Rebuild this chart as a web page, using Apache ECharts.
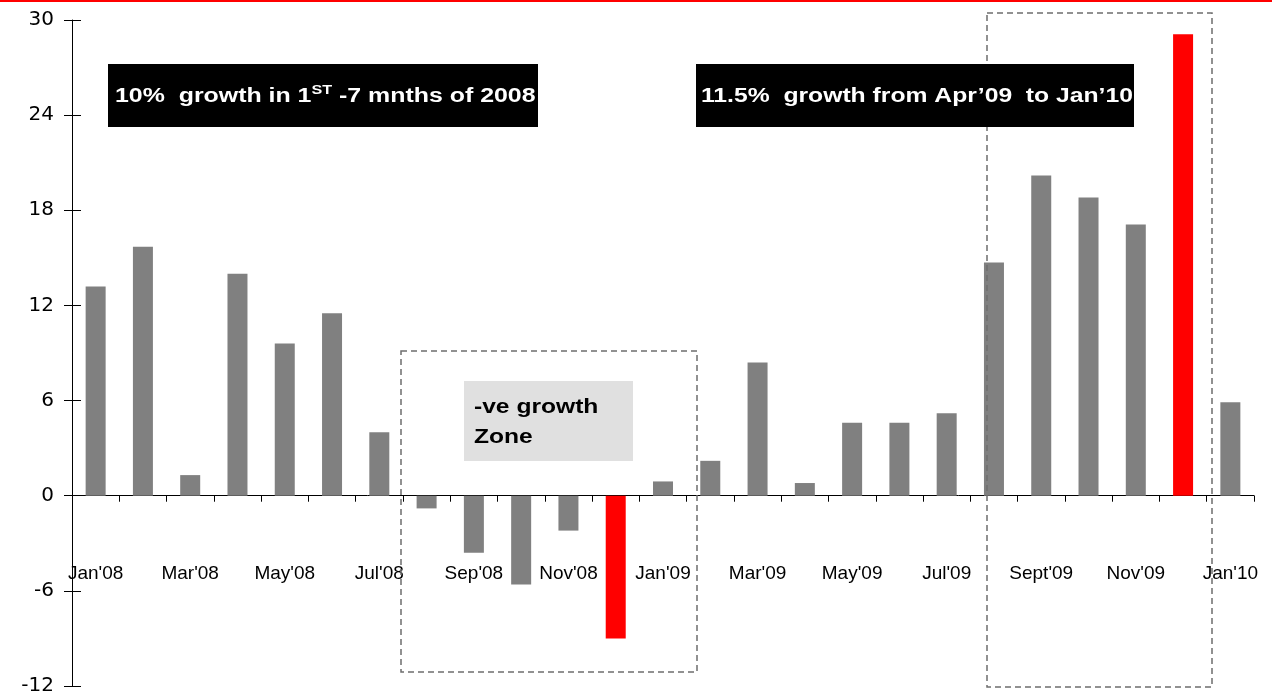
<!DOCTYPE html>
<html>
<head>
<meta charset="utf-8">
<title>Monthly growth</title>
<script src="https://cdn.jsdelivr.net/npm/echarts@6/dist/echarts.min.js"></script>
<style>
  html, body { margin: 0; padding: 0; background: #fff; }
  #chart { width: 1272px; height: 696px; }
</style>
</head>
<body>
<div id="chart"></div>
<script>
// 月份
const months = [
  "Jan'08", "Feb'08", "Mar'08", "Apr'08", "May'08", "Jun'08", "Jul'08", "Aug'08",
  "Sep'08", "Oct'08", "Nov'08", "Dec'08", "Jan'09", "Feb'09", "Mar'09", "Apr'09",
  "May'09", "Jun'09", "Jul'09", "Aug'09", "Sept'09", "Oct'09", "Nov'09", "Dec'09", "Jan'10"
]
// 增长率 (%)
const growth = [
  13.2, 15.7, 1.3, 14.0, 9.6, 11.5, 4.0, -0.8,
  -3.6, -5.6, -2.2, -9.0, 0.9, 2.2, 8.4, 0.8,
  4.6, 4.6, 5.2, 14.7, 20.2, 18.8, 17.1, 29.1, 5.9
]
// 红色标出的月份
const highlightMonths = ["Dec'08", "Dec'09"]
// y 轴刻度
const yMin = -12
const yMax = 30
const yStep = 6

const chart = echarts.init(document.getElementById('chart'))

const barData = growth.map((v, i) => ({
  value: v,
  itemStyle: { color: highlightMonths.includes(months[i]) ? '#ff0000' : '#808080' }
}))

const dashBox = (x, y, w, h) => ({
  type: 'rect',
  shape: { x, y, width: w, height: h },
  style: { fill: 'none', stroke: '#6e6e6e', lineWidth: 1.5, lineDash: [6, 4] },
  z: 10
})

const option = {
  animation: false,
  grid: { left: 72, right: 18, top: 20, bottom: 10, outerBoundsMode: 'none' },
  xAxis: [
    {
      // 零线 + 刻度
      type: 'category',
      data: months,
      axisLine: { onZero: true, lineStyle: { color: '#000', width: 1 } },
      axisTick: { show: true, interval: 0, length: 6, lineStyle: { color: '#000' } },
      axisLabel: { show: false },
      splitLine: { show: false }
    },
    {
      // 月份标签
      type: 'category',
      data: months,
      position: 'bottom',
      offset: -130,
      axisLine: { show: false, onZero: false },
      axisTick: { show: false },
      axisLabel: {
        interval: 1,
        margin: 8,
        color: '#000',
        fontFamily: 'Liberation Sans',
        fontSize: 19
      },
      splitLine: { show: false }
    }
  ],
  yAxis: [
    {
      type: 'value',
      min: yMin,
      max: yMax,
      interval: yStep,
      axisLine: { show: true, lineStyle: { color: '#000', width: 1 } },
      axisTick: { show: true, length: 8, lineStyle: { color: '#000' } },
      axisLabel: {
        margin: 18,
        color: '#000',
        fontFamily: 'DejaVu Sans',
        fontSize: 20
      },
      splitLine: { show: false }
    },
    {
      // 内侧刻度，做出穿过轴线的效果
      type: 'value',
      position: 'left',
      min: yMin,
      max: yMax,
      interval: yStep,
      axisLine: { show: false },
      axisTick: { show: true, inside: true, length: 9, lineStyle: { color: '#000' } },
      axisLabel: { show: false },
      splitLine: { show: false }
    }
  ],
  series: [
    {
      type: 'bar',
      data: barData,
      barWidth: 20,
      xAxisIndex: 0,
      yAxisIndex: 0
    }
  ],
  graphic: [
    // 顶部红线
    { type: 'rect', shape: { x: 0, y: 0, width: 1272, height: 2 }, style: { fill: '#ff0000' } },
    // 虚线框
    dashBox(401, 351, 296, 321),
    dashBox(987, 13, 225, 674),
    // 黑色注释框
    { type: 'rect', shape: { x: 108, y: 64, width: 430, height: 63 }, style: { fill: '#000' }, z: 20 },
    {
      type: 'text', x: 115, y: 96, scaleX: 1.245, z: 21,
      style: {
        text: '{a|10%  growth in 1}{s|ST}{a| -7 mnths of 2008}',
        verticalAlign: 'middle',
        rich: {
          a: { fill: '#fff', fontSize: 20, fontWeight: 'bold', fontFamily: 'Liberation Sans', lineHeight: 24 },
          s: { fill: '#fff', fontSize: 13, fontWeight: 'bold', fontFamily: 'Liberation Sans', lineHeight: 24, verticalAlign: 'top' }
        }
      }
    },
    { type: 'rect', shape: { x: 696, y: 64, width: 438, height: 63 }, style: { fill: '#000' }, z: 20 },
    {
      type: 'text', x: 701, y: 96, scaleX: 1.235, z: 21,
      style: {
        text: '11.5%  growth from Apr\u201909  to Jan\u201910',
        fill: '#fff', fontSize: 20, fontWeight: 'bold', fontFamily: 'Liberation Sans',
        verticalAlign: 'middle'
      }
    },
    // 灰色注释框
    { type: 'rect', shape: { x: 464, y: 381, width: 169, height: 80 }, style: { fill: '#e0e0e0' }, z: 20 },
    {
      type: 'text', x: 474, y: 422, scaleX: 1.23, z: 21,
      style: {
        text: '-ve growth\nZone',
        fill: '#000', fontSize: 20, fontWeight: 'bold', fontFamily: 'Liberation Sans',
        lineHeight: 30, verticalAlign: 'middle'
      }
    }
  ]
}

chart.setOption(option)
window.addEventListener('resize', () => chart.resize())
</script>
</body>
</html>
